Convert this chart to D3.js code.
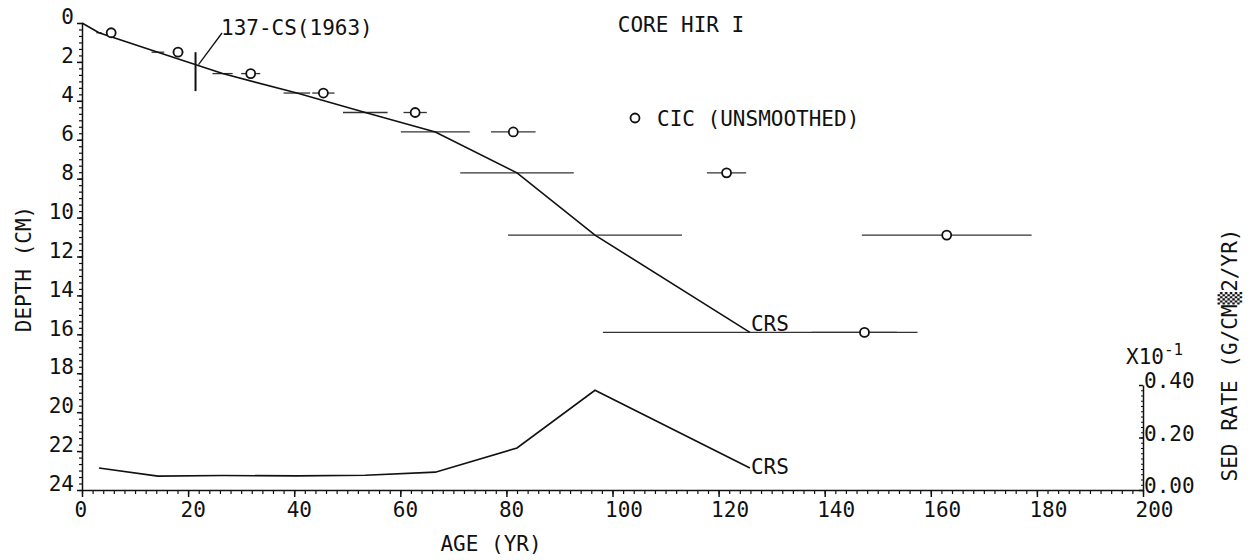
<!DOCTYPE html>
<html>
<head>
<meta charset="utf-8">
<script src="https://cdn.jsdelivr.net/npm/d3@7"></script>
<style>
  body { margin: 0; background: #fff; }
  text { font-family: "DejaVu Sans Mono", monospace; font-size: 21px; fill: #111; }
  .axis path, .axis line { stroke: #111; stroke-width: 1.5; }
  .minor path { display: none; }
  .minor line { stroke: #111; stroke-width: 1.2; }
</style>
</head>
<body>
<div id="chart"></div>
<script>
// Core HIR I : age / depth plot (CIC and CRS models) with sed rate below

// Mid depth of each sample (cm)
var depthCm = [0.5, 1.5, 2.6, 3.6, 4.6, 5.6, 7.7, 10.9, 15.9];

// CIC (unsmoothed) ages and error (yr)
var cicAge = [5.5, 18.1, 31.8, 45.5, 62.8, 81.3, 121.5, 163.0, 147.5];
var cicErr = [0.6, 1.0, 1.8, 2.1, 2.2, 4.2, 3.7, 16.0, 10.0];

// CRS ages and error (yr)
var crsAge = [3.2, 14.3, 26.5, 40.5, 53.4, 66.6, 82.0, 96.7, 125.9];
var crsErr = [0.5, 1.2, 1.9, 2.5, 4.2, 6.5, 10.7, 16.4, 27.7];

// CRS sed rate (x10^-1 g/cm2/yr)
var sedRate = [0.084, 0.053, 0.055, 0.054, 0.056, 0.068, 0.16, 0.38, 0.084];

// Surface point of the CRS curve
var surface = { age: 0, depth: 0 };

// 137-Cs (1963) marker: age, depth and depth range
var csAge = 21.4;
var csDepth = 2.5;
var csRange = [1.5, 3.5];

// Tick labels
var ageTicks = [0, 20, 40, 60, 80, 100, 120, 140, 160, 180, 200];
var depthTicks = [0, 2, 4, 6, 8, 10, 12, 14, 16, 18, 20, 22, 24];
var rateTicks = [0, 0.2, 0.4];

var width = 1251;
var height = 560;

var svg = d3
  .select("#chart")
  .append("svg")
  .attr("width", width)
  .attr("height", height);

var xScale = d3.scaleLinear().domain([0, 200]).range([82, 1143]);
var yScale = d3.scaleLinear().domain([0, 24]).range([23, 490]);
var rScale = d3.scaleLinear().domain([0, 0.4]).range([490, 385]);

// Minor ticks
svg
  .append("g")
  .attr("class", "minor")
  .attr("transform", "translate(0,490)")
  .call(d3.axisBottom(xScale).tickValues(d3.range(0, 201, 2)).tickSize(4).tickFormat(""));

svg
  .append("g")
  .attr("class", "minor")
  .attr("transform", "translate(82,0)")
  .call(d3.axisLeft(yScale).tickValues(d3.range(0, 73).map(function(i) { return i / 3; })).tickSize(3).tickFormat(""));

svg
  .append("g")
  .attr("class", "minor")
  .attr("transform", "translate(1143,0)")
  .call(d3.axisLeft(rScale).tickValues(d3.range(0, 21).map(function(i) { return i * 0.02; })).tickSize(2).tickFormat(""));

// Bottom axis
var xAxisG = svg
  .append("g")
  .attr("class", "axis")
  .attr("transform", "translate(0,490)")
  .call(d3.axisBottom(xScale).tickValues(ageTicks).tickSize(7).tickSizeOuter(0).tickFormat(d3.format("d")));
xAxisG.selectAll("text")
  .attr("x", -8)
  .attr("y", 12)
  .style("text-anchor", "start");

// Left axis
var yAxisG = svg
  .append("g")
  .attr("class", "axis")
  .attr("transform", "translate(82,0)")
  .call(d3.axisLeft(yScale).tickValues(depthTicks).tickSize(5).tickSizeOuter(0).tickFormat(d3.format("d")));
yAxisG.selectAll("text")
  .attr("x", -8)
  .attr("y", -6);

// Right axis (sed rate)
var rAxisG = svg
  .append("g")
  .attr("class", "axis")
  .attr("transform", "translate(1143,0)")
  .call(d3.axisLeft(rScale).tickValues(rateTicks).tickSize(4).tickSizeOuter(0).tickFormat(d3.format(".2f")));
rAxisG.selectAll("text")
  .attr("x", 1)
  .attr("y", -4)
  .style("text-anchor", "start");

svg.selectAll(".axis .domain").attr("stroke-width", 1.8);

// Axis titles
svg.append("text")
  .attr("x", 491)
  .attr("y", 551)
  .attr("text-anchor", "middle")
  .text("AGE (YR)");

svg.append("text")
  .attr("transform", "translate(31,269) rotate(-90)")
  .attr("text-anchor", "middle")
  .text("DEPTH (CM)");

svg.append("text")
  .attr("transform", "translate(1237,355) rotate(-90)")
  .attr("text-anchor", "middle")
  .text("SED RATE (G/CM\u25922/YR)");

var mult = svg.append("text").attr("x", 1126).attr("y", 364);
mult.append("tspan").text("X10");
mult.append("tspan").attr("dy", -9).style("font-size", "16px").text("-1");

svg.append("text")
  .attr("x", 681)
  .attr("y", 32)
  .attr("text-anchor", "middle")
  .text("CORE HIR I");

// Build records
var samples = depthCm.map(function(d, i) {
  return {
    depth: d,
    cic: cicAge[i],
    cicErr: cicErr[i],
    crs: crsAge[i],
    crsErr: crsErr[i],
    rate: sedRate[i]
  };
});

// CRS error bars
svg.append("g")
  .selectAll("line")
  .data(samples)
  .enter()
  .append("line")
  .attr("x1", function(d) { return xScale(d.crs - d.crsErr); })
  .attr("x2", function(d) { return xScale(d.crs + d.crsErr); })
  .attr("y1", function(d) { return yScale(d.depth); })
  .attr("y2", function(d) { return yScale(d.depth); })
  .attr("stroke", "#333")
  .attr("stroke-width", 1.3);

// CIC error bars
svg.append("g")
  .selectAll("line")
  .data(samples)
  .enter()
  .append("line")
  .attr("x1", function(d) { return xScale(d.cic - d.cicErr); })
  .attr("x2", function(d) { return xScale(d.cic + d.cicErr); })
  .attr("y1", function(d) { return yScale(d.depth); })
  .attr("y2", function(d) { return yScale(d.depth); })
  .attr("stroke", "#333")
  .attr("stroke-width", 1.3);

// CRS age-depth line
var crsPts = [surface].concat(samples.map(function(d) { return { age: d.crs, depth: d.depth }; }));
svg.append("path")
  .datum(crsPts)
  .attr("fill", "none")
  .attr("stroke", "#111")
  .attr("stroke-width", 1.6)
  .attr("d", d3.line()
    .x(function(d) { return xScale(d.age); })
    .y(function(d) { return yScale(d.depth); }));

var lastCrs = samples[samples.length - 1];
svg.append("text")
  .attr("x", xScale(lastCrs.crs) + 1)
  .attr("y", yScale(lastCrs.depth) - 1)
  .text("CRS");

// CIC circles
svg.append("g")
  .selectAll("circle")
  .data(samples)
  .enter()
  .append("circle")
  .attr("cx", function(d) { return xScale(d.cic); })
  .attr("cy", function(d) { return yScale(d.depth); })
  .attr("r", 4.5)
  .attr("fill", "#fff")
  .attr("stroke", "#111")
  .attr("stroke-width", 1.8);

// Legend
svg.append("circle")
  .attr("cx", 635)
  .attr("cy", 118)
  .attr("r", 4.5)
  .attr("fill", "#fff")
  .attr("stroke", "#111")
  .attr("stroke-width", 1.8);
svg.append("text")
  .attr("x", 657)
  .attr("y", 126)
  .text("CIC (UNSMOOTHED)");

// 137-Cs marker
svg.append("line")
  .attr("x1", xScale(csAge))
  .attr("x2", xScale(csAge))
  .attr("y1", yScale(csRange[0]))
  .attr("y2", yScale(csRange[1]))
  .attr("stroke", "#111")
  .attr("stroke-width", 2);
svg.append("line")
  .attr("x1", xScale(csAge) + 3)
  .attr("y1", yScale(csDepth) - 7)
  .attr("x2", 222)
  .attr("y2", 33)
  .attr("stroke", "#111")
  .attr("stroke-width", 1.3);
svg.append("text")
  .attr("x", 221)
  .attr("y", 35)
  .text("137-CS(1963)");

// Sed rate line
svg.append("path")
  .datum(samples)
  .attr("fill", "none")
  .attr("stroke", "#111")
  .attr("stroke-width", 1.6)
  .attr("d", d3.line()
    .x(function(d) { return xScale(d.crs); })
    .y(function(d) { return rScale(d.rate); }));

svg.append("text")
  .attr("x", xScale(lastCrs.crs) + 1)
  .attr("y", rScale(lastCrs.rate) + 6)
  .text("CRS");
</script>
</body>
</html>
